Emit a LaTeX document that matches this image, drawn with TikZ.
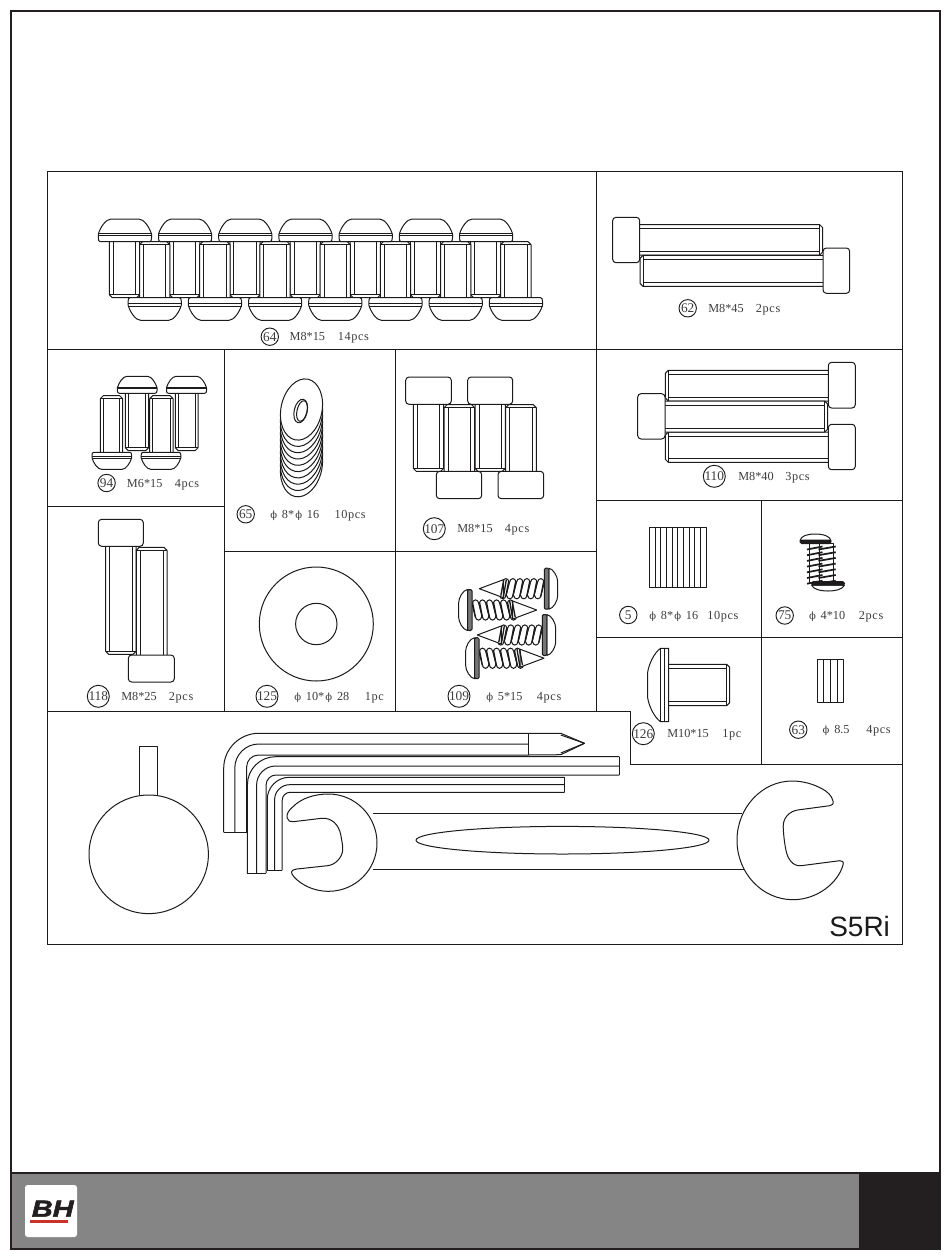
\documentclass[tikz,border=0pt]{standalone}
\usepackage{fontspec}
\setmainfont{Liberation Serif}
\newfontfamily\arialfont{Liberation Sans}
\newfontfamily\phifont{DejaVu Serif}
\newfontfamily\qtyfont[LetterSpace=5]{Liberation Serif}
\newfontfamily\logofont[UprightFont=* Bold Italic,FakeBold=2]{Liberation Sans}
\newcommand\fy{\hspace{.8pt}{\phifont\fontsize{7.5}{8}\selectfont ϕ}\hspace{3.6pt}}
\definecolor{ink}{HTML}{1C1A1B}
\definecolor{foot}{HTML}{858585}
\definecolor{blackbox}{HTML}{231F20}
\definecolor{bhred}{HTML}{C8342B}
\tikzset{
  hw/.style={draw=ink,line width=.75pt,line join=round},
  panel/.style={draw=ink,line width=.7pt},
  partnum/.style={draw=ink,circle,line width=.7pt,inner sep=0pt,text=ink!85,font=\fontsize{10}{11}\selectfont},
  parttext/.style={anchor=base west,inner sep=0pt,text=ink!85,font=\fontsize{9.2}{10}\selectfont},
  qtytext/.style={anchor=base west,inner sep=0pt,text=ink!85,font=\qtyfont\fontsize{9.2}{10}\selectfont},
}
% head y, tip y, x1, x2
\newcommand\vshank[5][4]{%
  \pgfmathsetmacro\tipin{#3-((#3>#2)?3:-3)}%
  \draw[hw,fill=white] (#4,#2) -- (#4,\tipin) -- (#4+3,#3) -- (#5-3,#3) -- (#5,\tipin) -- (#5,#2);
  \draw[hw] (#4,\tipin) -- (#5,\tipin);
  \draw[hw] (#4+#1,#2) -- (#4+#1,\tipin) (#5-#1,#2) -- (#5-#1,\tipin);
}
% head x, tip x, y1, y2
\newcommand\hshank[5][4]{%
  \pgfmathsetmacro\tipin{#3-((#3>#2)?3:-3)}%
  \draw[hw,fill=white] (#2,#4) -- (\tipin,#4) -- (#3,#4+3) -- (#3,#5-3) -- (\tipin,#5) -- (#2,#5);
  \draw[hw] (\tipin,#4) -- (\tipin,#5);
  \draw[hw] (#2,#4+#1) -- (\tipin,#4+#1) (#2,#5-#1) -- (\tipin,#5-#1);
}
\newcommand\sockhead[4]{\draw[hw,fill=white,rounded corners=2.5] (#1,#2) rectangle (#3,#4);}
% cx, y underside, half width, height, dir
\newcommand\domehead[5]{%
  \begin{scope}[shift={(#1,#2)},yscale=#5]
  \draw[hw,fill=white] (-#3+2,0) -- (#3-2,0) .. controls (#3-.5,0) and (#3,-.06*#4) .. (#3,-.16*#4) -- (#3,-.33*#4)
     .. controls (.93*#3,-.62*#4) and (.72*#3,-#4) .. (.52*#3,-#4) -- (-.52*#3,-#4)
     .. controls (-.72*#3,-#4) and (-.93*#3,-.62*#4) .. (-#3,-.33*#4) -- (-#3,-.16*#4)
     .. controls (-#3,-.06*#4) and (-#3+.5,0) .. (-#3+2,0) -- cycle;
  \draw[hw] (-#3,-.37*#4) -- (#3,-.37*#4) (-#3,-.26*#4) -- (#3,-.26*#4);
  \end{scope}
}
% x junction, y, dir, length
\newcommand\tapscrew[4]{%
  \begin{scope}[shift={(#1,#2)},xscale=#3]
  \foreach \ti in {0,...,5}{
    \pgfmathsetmacro\tx{\ti*7}
    \draw[hw,fill=white] (\tx,-6) .. controls (\tx+1,-11.5) and (\tx+6,-11.5) .. (\tx+7,-6) -- (\tx+10,6) .. controls (\tx+9,11.5) and (\tx+4,11.5) .. (\tx+3,6) -- cycle;
    \draw[hw,line width=.95pt] (\tx+.5,-8) -- (\tx+3.6,8);
  }
  \draw[hw,fill=white] (#4-24,-9) -- (#4,0) -- (#4-24,9) -- cycle;
  \draw[hw,line width=1pt] (#4-27,-9) -- (#4-24,9) (#4-24.5,-9) -- (#4-21.5,7);
  \draw[hw,fill=white] (-4.5,-20.5) .. controls (-9,-20) and (-13.4,-12) .. (-13.4,-7) -- (-13.4,7) .. controls (-13.4,12) and (-9,20) .. (-4.5,20.5) -- cycle;
  \draw[hw,fill=ink!60,rounded corners=1] (-4.5,-20.5) rectangle (0,20.5);
  \end{scope}
}
% L-shaped key edge: x, y top, r, y bottom, x end
\newcommand\lline[5]{\draw[hw] (#1,#4) -- (#1,#2+#3) .. controls (#1,#2+.45*#3) and (#1+.45*#3,#2) .. (#1+#3,#2) -- (#5,#2);}
% id, cx, cy, r, number, text1 x, text1, text2 x, text2
\newcommand\partlabel[9]{%
  \node[partnum,minimum size={2*#4*.75pt}] (num#1) at (#2,#3) {#5};
  \node[parttext] (size#1) at (#6,#3+4) {#7};
  \node[qtytext] (qty#1) at (#8,#3+4) {#9};
}
\begin{document}
\begin{tikzpicture}[x=.75pt,y=-.75pt]
\useasboundingbox (0,0) rectangle (950,1260);
\fill[white] (0,0) rectangle (950,1260);
% footer
\fill[foot] (11,1173) rectangle (859,1249);
\fill[blackbox] (859,1173) rectangle (940,1249);
\draw[blackbox,line width=1.5pt] (11,11) rectangle (940,1249);
\draw[blackbox,line width=1.5pt] (11,1173) -- (940,1173);
\fill[white,rounded corners=2] (25,1185) rectangle (77,1237);
\node[inner sep=0pt,anchor=base west,xscale=1.24,text=blackbox,font=\logofont\fontsize{17.5}{18}\selectfont] (bhlogo) at (31.5,1216.7) {BH};
\fill[bhred] (30,1220) rectangle (68,1222.7);
% panel grid
\draw[panel] (47,171) rectangle (902,944);
\draw[panel] (47,349.5) -- (902,349.5);
\draw[panel] (596.5,171) -- (596.5,711);
\draw[panel] (47,711) -- (630.7,711) -- (630.7,764) -- (902,764);
\draw[panel] (761.3,500) -- (761.3,764);
\draw[panel] (596.5,500) -- (902,500);
\draw[panel] (596.5,637.5) -- (902,637.5);
\draw[panel] (224.3,349.5) -- (224.3,711);
\draw[panel] (395.2,349.5) -- (395.2,711);
\draw[panel] (47,506.3) -- (224.3,506.3);
\draw[panel] (224.3,551.5) -- (596.5,551.5);
% part 64
\foreach \k in {0,2,...,12}{\vshank{241.7}{297.7}{109.4+30.1*\k}{109.4+30.1*\k+30.3}}
\foreach \k in {1,3,...,13}{\vshank{297.7}{241.7}{109.4+30.1*\k}{109.4+30.1*\k+30.3}}
\foreach \k in {0,...,6}{
  \domehead{124.9+60.2*\k}{241.7}{26.6}{22.7}{1}
  \domehead{154.7+60.2*\k}{297.7}{26.6}{22.7}{-1}
}
\partlabel{64}{269.8}{336.7}{8.7}{64}{289.4}{M8*15}{337.5}{14pcs}
% part 62
\hshank{639.7}{822.7}{224.7}{255}
\hshank{823}{640}{255.3}{286.3}
\sockhead{612.7}{217.3}{639.7}{262.7}
\sockhead{823}{248}{849.7}{293.3}
\partlabel{62}{687.7}{308.3}{8.7}{62}{708}{M8*45}{755.7}{2pcs}
% part 110
\hshank{828}{665.3}{370.3}{401}
\hshank{828}{665.3}{432}{462.3}
\hshank{665}{827.7}{401}{432}
\sockhead{828.3}{362.3}{855.3}{408}
\sockhead{637.7}{393.7}{665}{439}
\sockhead{828.3}{424.3}{855.3}{469.7}
\partlabel{110}{714.3}{476.3}{11}{110}{738}{M8*40}{785}{3pcs}
% part 94
\vshank[2.8]{393.3}{450.7}{125.3}{148.7}
\vshank[2.8]{393.3}{450.7}{175.3}{198}
\vshank[2.8]{452.3}{395.7}{100.3}{122.7}
\vshank[2.8]{452.3}{395.7}{149.7}{173}
\domehead{137.2}{393.3}{19.8}{17}{1}
\domehead{186.5}{393.3}{20}{17}{1}
\domehead{111.8}{452.3}{19.8}{17}{-1}
\domehead{161}{452.3}{19.8}{17}{-1}
\partlabel{94}{106.6}{483}{8.7}{94}{126.7}{M6*15}{174.6}{4pcs}
% part 118
\vshank{546.3}{654.3}{105.7}{136}
\vshank{655}{547.3}{136.3}{167}
\sockhead{98.3}{519.3}{143.3}{546.3}
\sockhead{128.3}{655}{174.3}{682}
\partlabel{118}{98.3}{696.3}{11}{118}{121}{M8*25}{168.7}{2pcs}
% part 65
\foreach \k in {9,8,...,0}{
  \draw[hw,fill=white] (301.5,409.5+6.3*\k) ellipse [x radius=20.5,y radius=31,rotate=-12];
}
\draw[hw,fill=white] (300.7,411) ellipse [x radius=6.5,y radius=12,rotate=-13];
\draw[hw] (302,411) ellipse [x radius=5,y radius=10.5,rotate=-13];
\partlabel{65}{245.7}{514.3}{8.7}{65}{269}{\fy8*\fy16}{334.4}{10pcs}
% part 125
\draw[hw] (316.3,624) circle (57);
\draw[hw] (316.3,624) circle (20.7);
\partlabel{125}{267}{696.3}{11}{125}{293}{\fy10*\fy28}{364.7}{1pc}
% part 107
\vshank{404.3}{471.3}{413.3}{443.7}
\vshank{404.3}{471.3}{475}{505.3}
\vshank{471.3}{404.7}{444}{474.7}
\vshank{471.3}{404.7}{505.7}{536.3}
\sockhead{405.7}{377}{451.3}{404.3}
\sockhead{467.7}{377}{512.7}{404.3}
\sockhead{436.3}{471.3}{481.7}{498.7}
\sockhead{498}{471.3}{543.7}{498.7}
\partlabel{107}{434.3}{528.7}{11}{107}{457}{M8*15}{504.7}{4pcs}
% part 109
\tapscrew{544.3}{588.7}{-1}{65}
\tapscrew{472}{610}{1}{64.7}
\tapscrew{542.3}{635}{-1}{65}
\tapscrew{479}{658.2}{1}{65}
\partlabel{109}{459}{696.3}{11}{109}{485}{\fy5*15}{536.7}{4pcs}
% part 5
\draw[hw] (649.7,527.7) rectangle (706,587.7);
\foreach \k in {1,...,9}{\draw[hw] (649.7+5.63*\k,527.7) -- (649.7+5.63*\k,587.7);}
\partlabel{5}{628.3}{615}{8.7}{5}{648}{\fy8*\fy16}{707}{10pcs}
% part 75
\draw[hw,fill=white] (809,543) rectangle (821.7,582);
\draw[hw,fill=white] (819.5,543) rectangle (833.3,582);
\foreach \k in {0,...,6}{
  \draw[hw,line width=1.3pt] (807,549.5+5.7*\k) -- (822.5,546.5+5.7*\k);
  \draw[hw,line width=1.3pt] (818.5,549.5+5.7*\k) -- (835.7,546.5+5.7*\k);
}
\draw[hw,fill=white] (800,540.5) .. controls (801,536) and (807,534) .. (815,534) .. controls (823,534) and (830,536) .. (831,540.5) -- cycle;
\draw[hw,fill=ink,rounded corners=1.2] (800,540) rectangle (831,543.5);
\draw[hw,fill=white] (811.5,585) .. controls (813,589) and (820,591) .. (828,591) .. controls (836,591) and (843,589) .. (844.5,585) -- cycle;
\draw[hw,fill=ink,rounded corners=1.2] (811.5,581.7) rectangle (844.5,585.2);
\partlabel{75}{784.7}{615.5}{8.7}{75}{807.7}{\fy4*10}{858.7}{2pcs}
% part 126
\hshank{668.7}{729.7}{664.3}{705.7}
\draw[hw,fill=white] (668.7,648.3) -- (660.5,648.3) .. controls (654,653) and (649,664) .. (647.7,672) -- (647.7,698) .. controls (649,706) and (654,717) .. (660.5,721.7) -- (668.7,721.7) -- cycle;
\draw[hw] (660.5,648.3) -- (660.5,721.7) (664.5,648.3) -- (664.5,721.7);
\partlabel{126}{643.3}{733.7}{11}{126}{667}{M10*15}{722}{1pc}
% part 63
\draw[hw] (817.3,659) rectangle (843.7,702);
\foreach \k in {1,2,3}{\draw[hw] (817.3+6.6*\k,659) -- (817.3+6.6*\k,702);}
\partlabel{63}{798.3}{729.7}{8.7}{63}{821.3}{\fy8.5}{866}{4pcs}
% T-handle
\draw[hw] (139,795) -- (139,746.3) -- (157.8,746.3) -- (157.8,795);
\draw[hw] (148.7,854.3) ellipse [x radius=59.7,y radius=59.3];
% allen keys
\lline{223.7}{733.3}{35}{832.3}{528.3}
\lline{234.8}{744}{24}{832.3}{528.3}
\lline{246.6}{755}{12}{832.3}{528.3}
\draw[hw] (223.7,832.3) -- (246.6,832.3) (528.3,733.3) -- (528.3,755);
\draw[hw] (528.3,733.3) -- (560.8,733.3) -- (584.5,743.3) -- (560.8,754.7) -- (528.3,755);
\draw[hw] (560.8,735) -- (584.5,743.3) -- (560.8,753);
\lline{247.4}{756.7}{28}{873}{619.4}
\lline{256.6}{766}{19}{873}{619.4}
\lline{266.1}{775}{10}{873}{619.4}
\draw[hw] (247.4,873) -- (266.1,873) (619.4,756.7) -- (619.4,775);
\lline{267.3}{777.3}{22}{870.3}{564.6}
\lline{274.6}{784.7}{15}{870.3}{564.6}
\lline{282.2}{792.3}{8}{870.3}{564.6}
\draw[hw] (267.3,870.3) -- (282.2,870.3) (564.6,777.3) -- (564.6,792.3);
% wrench
\draw[hw] (372.5,813.7) -- (742,813.7) (372.5,869.3) -- (745.5,869.3);
\draw[hw] (562.5,840.2) ellipse [x radius=146.5,y radius=13.8];
\draw[hw,fill=white] (293,806.7) .. controls (289,810) and (286,814) .. (287.2,818) .. controls (288,821) and (290,822) .. (293,821.7) -- (321.6,818.3) .. controls (332,817.5) and (339,825) .. (340.8,835) .. controls (342,842) and (343,846) .. (342.7,850) .. controls (342,858) and (335,865) .. (327.4,865.7) -- (296.8,869) .. controls (293,869.5) and (290.5,871) .. (292,874) .. controls (296,881) and (310,891.3) .. (328.5,891.3) .. controls (355.3,891.3) and (377,869.8) .. (377,843) .. controls (377,816.2) and (355.3,794) .. (328.5,794) .. controls (314,794) and (301,798.5) .. (293,806.7) -- cycle;
\draw[hw,fill=white] (821.2,788.3) .. controls (827,791) and (832,796) .. (833,801) .. controls (834,804) and (832,805.5) .. (829.6,805.7) -- (797.6,810) .. controls (789,811.5) and (783,818) .. (783.2,826.7) .. controls (783.5,835) and (784.5,843) .. (785.9,850) .. controls (787.5,859) and (793,866.5) .. (801,865.7) -- (839.7,860.7) .. controls (842.5,860.3) and (844,862) .. (843,865) .. controls (838,883) and (817,899.7) .. (793,899.7) .. controls (762,899.7) and (737,873) .. (737,840.3) .. controls (737,807.6) and (762,781) .. (792,781) .. controls (803,781) and (813,784) .. (821.2,788.3) -- cycle;
\node[inner sep=0pt,anchor=base west,text=ink,font=\arialfont\fontsize{21}{22}\selectfont] (model) at (829,936.7) {S5Ri};
\end{tikzpicture}
\end{document}
